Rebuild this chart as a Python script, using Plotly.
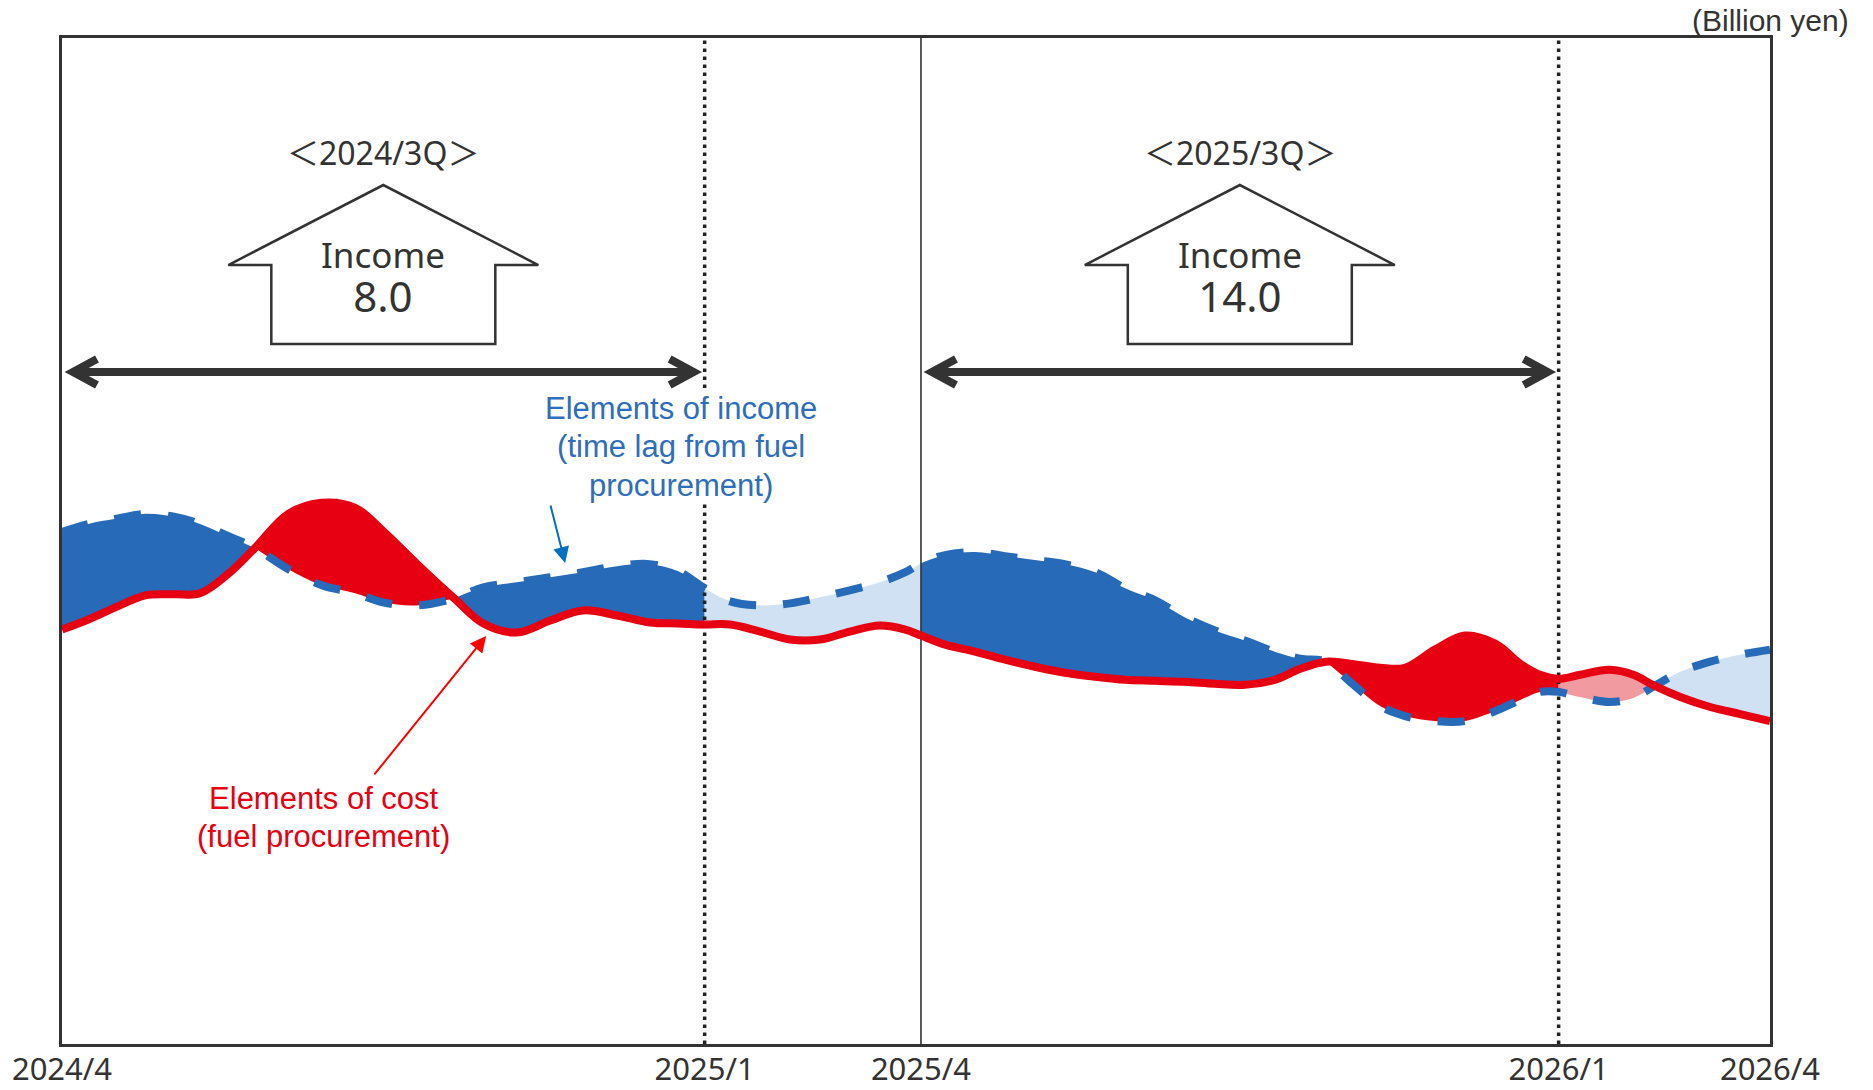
import plotly.graph_objects as go

# ---- data -------------------------------------------------------------
# months elapsed since 2024/4 for each reading
MONTH = [0.00, 0.37, 0.75, 1.17, 1.59, 1.94, 2.33, 2.71, 3.18, 3.65,
         4.12, 4.51, 4.99, 5.51, 5.92, 6.39, 6.86, 7.32, 7.80, 8.26,
         8.66, 9.03, 9.39, 9.81, 10.23, 10.65, 11.07, 11.49, 11.85, 12.07,
         12.41, 12.83, 13.25, 13.67, 14.09, 14.52, 14.94, 15.36, 15.78, 16.20,
         16.62, 17.04, 17.40, 17.76, 18.10, 18.52, 18.87, 19.29, 19.71, 20.14,
         20.49, 20.77, 21.03, 21.33, 21.75, 22.08, 22.38, 22.74, 23.16, 23.58, 24.00]

# elements of income (time lag from fuel procurement)
INCOME = [5.09, 5.17, 5.22, 5.27, 5.24, 5.17, 5.05, 4.93, 4.72, 4.56,
          4.48, 4.39, 4.36, 4.43, 4.54, 4.59, 4.64, 4.69, 4.75, 4.77,
          4.70, 4.53, 4.40, 4.36, 4.38, 4.44, 4.51, 4.59, 4.69, 4.78,
          4.86, 4.89, 4.85, 4.81, 4.77, 4.69, 4.53, 4.41, 4.24, 4.11,
          4.01, 3.90, 3.83, 3.80, 3.60, 3.36, 3.26, 3.21, 3.21, 3.31,
          3.42, 3.50, 3.50, 3.45, 3.40, 3.44, 3.56, 3.70, 3.80, 3.87, 3.92]

# elements of cost (fuel procurement)
COST = [4.12, 4.22, 4.34, 4.46, 4.47, 4.48, 4.67, 4.93, 5.27, 5.38,
        5.33, 5.10, 4.77, 4.43, 4.18, 4.09, 4.21, 4.31, 4.26, 4.19,
        4.18, 4.17, 4.17, 4.10, 4.02, 4.02, 4.10, 4.16, 4.12, 4.06,
        3.97, 3.90, 3.82, 3.75, 3.69, 3.65, 3.62, 3.61, 3.60, 3.58,
        3.57, 3.62, 3.73, 3.80, 3.78, 3.74, 3.74, 3.92, 4.06, 3.98,
        3.78, 3.67, 3.63, 3.67, 3.72, 3.67, 3.56, 3.45, 3.35, 3.28, 3.21]

# cumulative periods (start, end) in months, their labels and income
PERIODS = [(0.0, 9.03), (12.07, 21.03)]
PERIOD_LABELS = ["＜2024/3Q＞", "＜2025/3Q＞"]
PERIOD_INCOME = [8.0, 14.0]

TICK_VALS = [0.0, 9.03, 12.07, 21.03, 24.0]
TICK_TEXT = ["2024/4", "2025/1", "2025/4", "2026/1", "2026/4"]

INCOME_NOTE = ["Elements of income", "(time lag from fuel", "procurement)"]
COST_NOTE = ["Elements of cost", "(fuel procurement)"]

# ---- styling ----------------------------------------------------------
W, H = 1873, 1090
MARGIN = dict(l=62, r=103, t=38, b=46)
X_RANGE = [0, 24]
Y_RANGE = [0, 10]

DARK_BLUE = "#276AB7"
RED = "#E60012"
LIGHT_BLUE = "#CFE1F3"
PINK = "#F19BA0"
INK = "#333333"
SANS = "Noto Sans, Noto Sans CJK JP, sans-serif"
ARIAL = "Liberation Sans, Arial, sans-serif"

plot_w = W - MARGIN["l"] - MARGIN["r"]
months_per_px = (X_RANGE[1] - X_RANGE[0]) / plot_w


def sized(text, px):
    return f"<span style='font-size:{px}px'>{text}</span>"


fig = go.Figure()

# ---- shaded gaps between the two curves --------------------------------
breaks = {0, len(MONTH) - 1}
for i, m in enumerate(MONTH):
    if any(m in p for p in PERIODS) or INCOME[i] == COST[i]:
        breaks.add(i)
breaks = sorted(breaks)

for a, b in zip(breaks[:-1], breaks[1:]):
    xs = MONTH[a:b + 1]
    inc = INCOME[a:b + 1]
    cst = COST[a:b + 1]
    mid = 0.5 * (xs[0] + xs[-1])
    inside = any(p0 <= mid <= p1 for p0, p1 in PERIODS)
    gain = sum(i - c for i, c in zip(inc, cst)) > 0
    if inside:
        color = DARK_BLUE if gain else RED
    else:
        color = LIGHT_BLUE if gain else PINK
    fig.add_trace(go.Scatter(x=xs, y=cst, mode="lines",
                             line=dict(width=0, shape="spline"),
                             hoverinfo="skip", showlegend=False))
    fig.add_trace(go.Scatter(x=xs, y=inc, mode="lines",
                             line=dict(width=0, shape="spline"),
                             fill="tonexty", fillcolor=color,
                             hoverinfo="skip", showlegend=False))

# ---- period boundary lines ---------------------------------------------
for p0, p1 in PERIODS:
    if p0 > X_RANGE[0]:
        fig.add_trace(go.Scatter(x=[p0, p0], y=Y_RANGE, mode="lines",
                                 line=dict(color=INK, width=1.6),
                                 hoverinfo="skip", showlegend=False))
    if p1 < X_RANGE[1]:
        fig.add_trace(go.Scatter(x=[p1, p1], y=Y_RANGE, mode="lines",
                                 line=dict(color="#222222", width=3.5,
                                           dash="3.5px,4.5px"),
                                 hoverinfo="skip", showlegend=False))

# ---- the two curves ------------------------------------------------------
fig.add_trace(go.Scatter(x=MONTH, y=INCOME, mode="lines",
                         line=dict(color=DARK_BLUE, width=8, shape="spline",
                                   dash="27px,27px"),
                         hoverinfo="skip", showlegend=False))
fig.add_trace(go.Scatter(x=MONTH, y=COST, mode="lines",
                         line=dict(color=RED, width=8, shape="spline"),
                         hoverinfo="skip", showlegend=False))

# ---- period arrows, block arrows and labels ----------------------------
shapes = []
annotations = []
ARROW_Y = 0.668
HOUSE_BASE_Y = 0.6958
HOUSE_PATH = "M -112,0 L 112,0 L 112,79 L 155,79 L 0,159 L -155,79 L -112,79 Z"
inset = 11 * months_per_px

for (p0, p1), label, value in zip(PERIODS, PERIOD_LABELS, PERIOD_INCOME):
    cx = 0.5 * (p0 + p1)
    # double-headed span arrow
    shapes.append(dict(type="line", xref="x", yref="paper",
                       x0=p0 + inset, x1=p1 - inset, y0=ARROW_Y, y1=ARROW_Y,
                       line=dict(color=INK, width=8)))
    shapes.append(dict(type="path", xref="x", yref="paper",
                       xsizemode="pixel", ysizemode="pixel",
                       xanchor=p0, yanchor=ARROW_Y,
                       path="M 35,13 L 11,0 L 35,-13",
                       line=dict(color=INK, width=8)))
    shapes.append(dict(type="path", xref="x", yref="paper",
                       xsizemode="pixel", ysizemode="pixel",
                       xanchor=p1, yanchor=ARROW_Y,
                       path="M -35,13 L -11,0 L -35,-13",
                       line=dict(color=INK, width=8)))
    # upward block arrow
    shapes.append(dict(type="path", xref="x", yref="paper",
                       xsizemode="pixel", ysizemode="pixel",
                       xanchor=cx, yanchor=HOUSE_BASE_Y,
                       path=HOUSE_PATH, fillcolor="white",
                       line=dict(color=INK, width=2.5)))
    annotations.append(dict(x=cx, y=0.886, xref="x", yref="paper",
                            text=label, showarrow=False,
                            xanchor="center", yanchor="middle",
                            font=dict(family=SANS, size=32, color=INK)))
    annotations.append(dict(x=cx, y=0.7619, xref="x", yref="paper",
                            text=sized("Income", 35) + "<br>" + sized(f"{value:.1f}", 42),
                            showarrow=False,
                            xanchor="center", yanchor="middle",
                            font=dict(family=SANS, size=34, color=INK)))

# ---- callouts ------------------------------------------------------------
annotations.append(dict(x=8.70, y=0.5934, xref="x", yref="paper",
                        text="<br>".join(sized(t, 31) for t in INCOME_NOTE),
                        showarrow=False, xanchor="center", yanchor="middle",
                        bgcolor="white", borderpad=0,
                        font=dict(family=ARIAL, size=29.5, color="#2E6EBA")))
annotations.append(dict(x=3.68, y=0.2256, xref="x", yref="paper",
                        text="<br>".join(sized(t, 31) for t in COST_NOTE),
                        showarrow=False, xanchor="center", yanchor="middle",
                        font=dict(family=ARIAL, size=29.5, color=RED)))

annotations.append(dict(x=7.07, y=0.4781, xref="x", yref="paper", text="",
                        showarrow=True, ax=-15, ay=-59, arrowhead=2,
                        arrowsize=1.6, arrowwidth=2, arrowcolor="#0070C0",
                        standoff=0, startstandoff=0))
annotations.append(dict(x=5.96, y=0.4056, xref="x", yref="paper", text="",
                        showarrow=True, ax=-113, ay=140, arrowhead=2,
                        arrowsize=1.6, arrowwidth=2, arrowcolor="#FF0000",
                        standoff=0, startstandoff=0))

annotations.append(dict(x=1.0474, y=1.0174, xref="paper", yref="paper",
                        text="(Billion yen)", showarrow=False,
                        xanchor="right", yanchor="middle",
                        font=dict(family=ARIAL, size=30, color=INK)))

fig.update_layout(
    width=W, height=H, margin=MARGIN,
    paper_bgcolor="white", plot_bgcolor="white",
    shapes=shapes, annotations=annotations,
    showlegend=False,
    xaxis=dict(range=X_RANGE, showgrid=False, zeroline=False,
               showline=True, mirror=True, linecolor=INK, linewidth=2.5,
               tickmode="array", tickvals=TICK_VALS, ticktext=TICK_TEXT,
               ticks="", ticklabelstandoff=-4,
               tickfont=dict(family=SANS, size=31, color=INK),
               automargin=False, fixedrange=True),
    yaxis=dict(range=Y_RANGE, showgrid=False, zeroline=False,
               showline=True, mirror=True, linecolor=INK, linewidth=2.5,
               showticklabels=False, ticks="", automargin=False,
               fixedrange=True),
)

fig.write_html("out.html")
